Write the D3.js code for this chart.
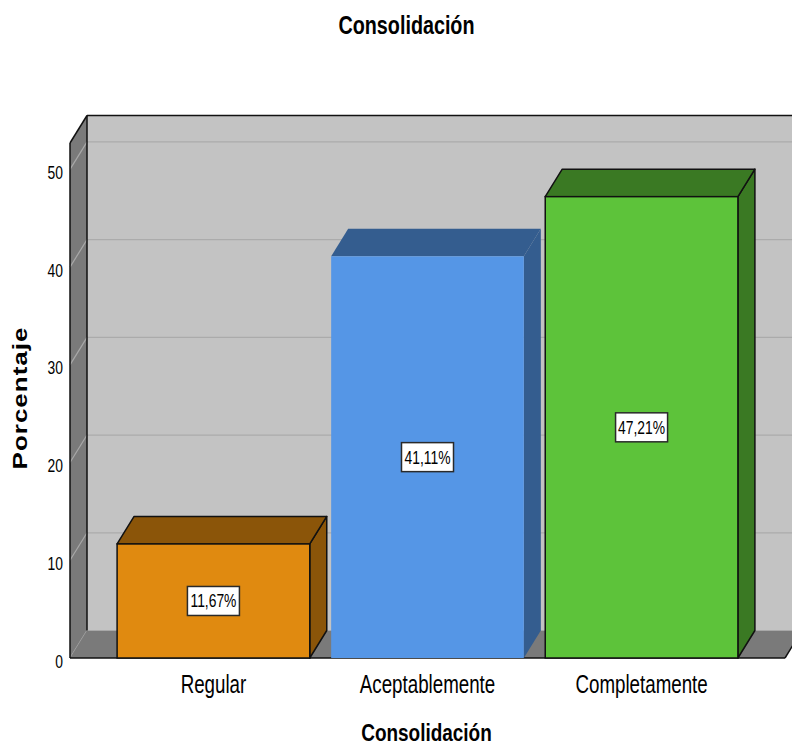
<!DOCTYPE html>
<html>
<head>
<meta charset="utf-8">
<script src="https://cdn.jsdelivr.net/npm/d3@7/dist/d3.min.js"></script>
<style>
  html, body { margin: 0; padding: 0; background: #ffffff; }
  svg { display: block; }
  text { font-family: "Liberation Sans", Arial, sans-serif; fill: #000; }
</style>
</head>
<body>
<svg id="chart" width="792" height="747"></svg>
<script>
// Consolidación: percentage per category
const categories = ["Regular", "Aceptablemente", "Completamente"];
const percentages = [11.67, 41.11, 47.21];
const valueLabels = ["11,67%", "41,11%", "47,21%"];
const yTicks = [0, 10, 20, 30, 40, 50];
const yTickLabels = ["0", "10", "20", "30", "40", "50"];

// Face colours per bar: front, top/side
const frontColors = ["#e08a10", "#5596e6", "#5dc33a"];
const shadeColors = ["#8b5509", "#345d8f", "#3a7923"];
const edgeColors = ["#111", "none", "#111"];

const W = 792, H = 747;
const svg = d3.select("#chart");

// Front plane of the 3D plot, plus the depth offset of the walls
const plotLeft = 70, plotRight = 785;
const dx = 17, dy = -27.5;
const yMax = 52.7;

const x = d3.scaleBand()
  .domain(categories)
  .range([plotLeft, plotRight])
  .paddingInner(0.1)
  .paddingOuter(0.22);

const y = d3.scaleLinear()
  .domain([0, yMax])
  .range([658, 143]);

const sx = 0.77; // horizontally condensed lettering

const pts = arr => arr.map(p => p.join(",")).join(" ");

// Back wall
const backL = plotLeft + dx, backR = plotRight + dx;
svg.append("polygon")
  .attr("points", pts([[backL, y(yMax) + dy], [backR + 20, y(yMax) + dy], [backR + 20, y(0) + dy], [backL, y(0) + dy]]))
  .attr("fill", "#c3c3c3");

// Gridlines on the back wall
svg.append("g").selectAll("line").data(yTicks).join("line")
  .attr("x1", backL).attr("x2", backR + 20)
  .attr("y1", d => y(d) + dy).attr("y2", d => y(d) + dy)
  .attr("stroke", "#ababab").attr("stroke-width", 1.2);

// Left side wall
svg.append("polygon")
  .attr("points", pts([[plotLeft, y(yMax)], [backL, y(yMax) + dy], [backL, y(0) + dy], [plotLeft, y(0)]]))
  .attr("fill", "#7a7a7a");

svg.append("g").selectAll("line").data(yTicks).join("line")
  .attr("x1", plotLeft).attr("x2", backL)
  .attr("y1", d => y(d)).attr("y2", d => y(d) + dy)
  .attr("stroke", "#a8a8a8").attr("stroke-width", 1.2);

// Floor
svg.append("polygon")
  .attr("points", pts([[plotLeft, y(0)], [plotRight, y(0)], [backR, y(0) + dy], [backL, y(0) + dy]]))
  .attr("fill", "#7a7a7a");
svg.append("line")
  .attr("x1", backL).attr("x2", backR)
  .attr("y1", y(0) + dy).attr("y2", y(0) + dy)
  .attr("stroke", "#a8a8a8").attr("stroke-width", 1.2);

// Frame edges
const edge = (x1, y1, x2, y2, w = 1.5) => svg.append("line")
  .attr("x1", x1).attr("y1", y1).attr("x2", x2).attr("y2", y2)
  .attr("stroke", "#111").attr("stroke-width", w);
edge(plotLeft, y(yMax), plotLeft, y(0));
edge(plotLeft, y(yMax), backL, y(yMax) + dy);
edge(backL, y(yMax) + dy, backR + 20, y(yMax) + dy);
edge(backL, y(yMax) + dy, backL, y(0) + dy);
edge(plotLeft, y(0), plotRight, y(0));
edge(plotRight, y(0), backR, y(0) + dy);

// 3D bars
const bars = svg.append("g").selectAll("g").data(categories).join("g");
bars.each(function (c, i) {
  const g = d3.select(this);
  const x0 = x(c), x1 = x(c) + x.bandwidth();
  const yv = y(percentages[i]), y0 = y(0);
  const stroke = edgeColors[i];
  g.append("polygon")
    .attr("points", pts([[x1, yv], [x1 + dx, yv + dy], [x1 + dx, y0 + dy], [x1, y0]]))
    .attr("fill", shadeColors[i]).attr("stroke", stroke).attr("stroke-width", 1.5)
    .attr("stroke-linejoin", "round");
  g.append("polygon")
    .attr("points", pts([[x0, yv], [x0 + dx, yv + dy], [x1 + dx, yv + dy], [x1, yv]]))
    .attr("fill", shadeColors[i]).attr("stroke", stroke).attr("stroke-width", 1.5)
    .attr("stroke-linejoin", "round");
  g.append("rect")
    .attr("x", x0).attr("y", yv)
    .attr("width", x.bandwidth()).attr("height", y0 - yv)
    .attr("fill", frontColors[i]).attr("stroke", stroke).attr("stroke-width", 1.5);

  // Value label box at the middle of the front face
  const cx = x0 + x.bandwidth() / 2, cy = (yv + y0) / 2;
  g.append("rect")
    .attr("x", cx - 26).attr("y", cy - 14.5)
    .attr("width", 52).attr("height", 29)
    .attr("fill", "#fff").attr("stroke", "#2a2a2a").attr("stroke-width", 1.5);
  g.append("text")
    .attr("transform", `translate(${cx},${cy + 6.5}) scale(${sx},1)`)
    .attr("text-anchor", "middle")
    .attr("font-size", 18)
    .text(valueLabels[i]);
});

// Y tick labels
svg.append("g").selectAll("text").data(yTicks).join("text")
  .attr("transform", d => `translate(63,${y(d) + 9.5}) scale(${sx},1)`)
  .attr("text-anchor", "end")
  .attr("font-size", 18)
  .text((d, i) => yTickLabels[i]);

// X category labels
svg.append("g").selectAll("text").data(categories).join("text")
  .attr("transform", d => `translate(${x(d) + x.bandwidth() / 2},693) scale(0.75,1)`)
  .attr("text-anchor", "middle")
  .attr("font-size", 25)
  .text(d => d);

// Titles
svg.append("text")
  .attr("transform", `translate(406.5,34) scale(0.79,1)`)
  .attr("text-anchor", "middle")
  .attr("font-size", 25).attr("font-weight", "bold")
  .text("Consolidación");

svg.append("text")
  .attr("transform", `translate(${(plotLeft + plotRight) / 2 - 1},741) scale(0.79,1)`)
  .attr("text-anchor", "middle")
  .attr("font-size", 24).attr("font-weight", "bold")
  .text("Consolidación");

svg.append("text")
  .attr("transform", `translate(27,398) rotate(-90) scale(1,0.77)`)
  .attr("text-anchor", "middle")
  .attr("font-size", 26).attr("font-weight", "bold")
  .attr("letter-spacing", 1)
  .text("Porcentaje");
</script>
</body>
</html>
